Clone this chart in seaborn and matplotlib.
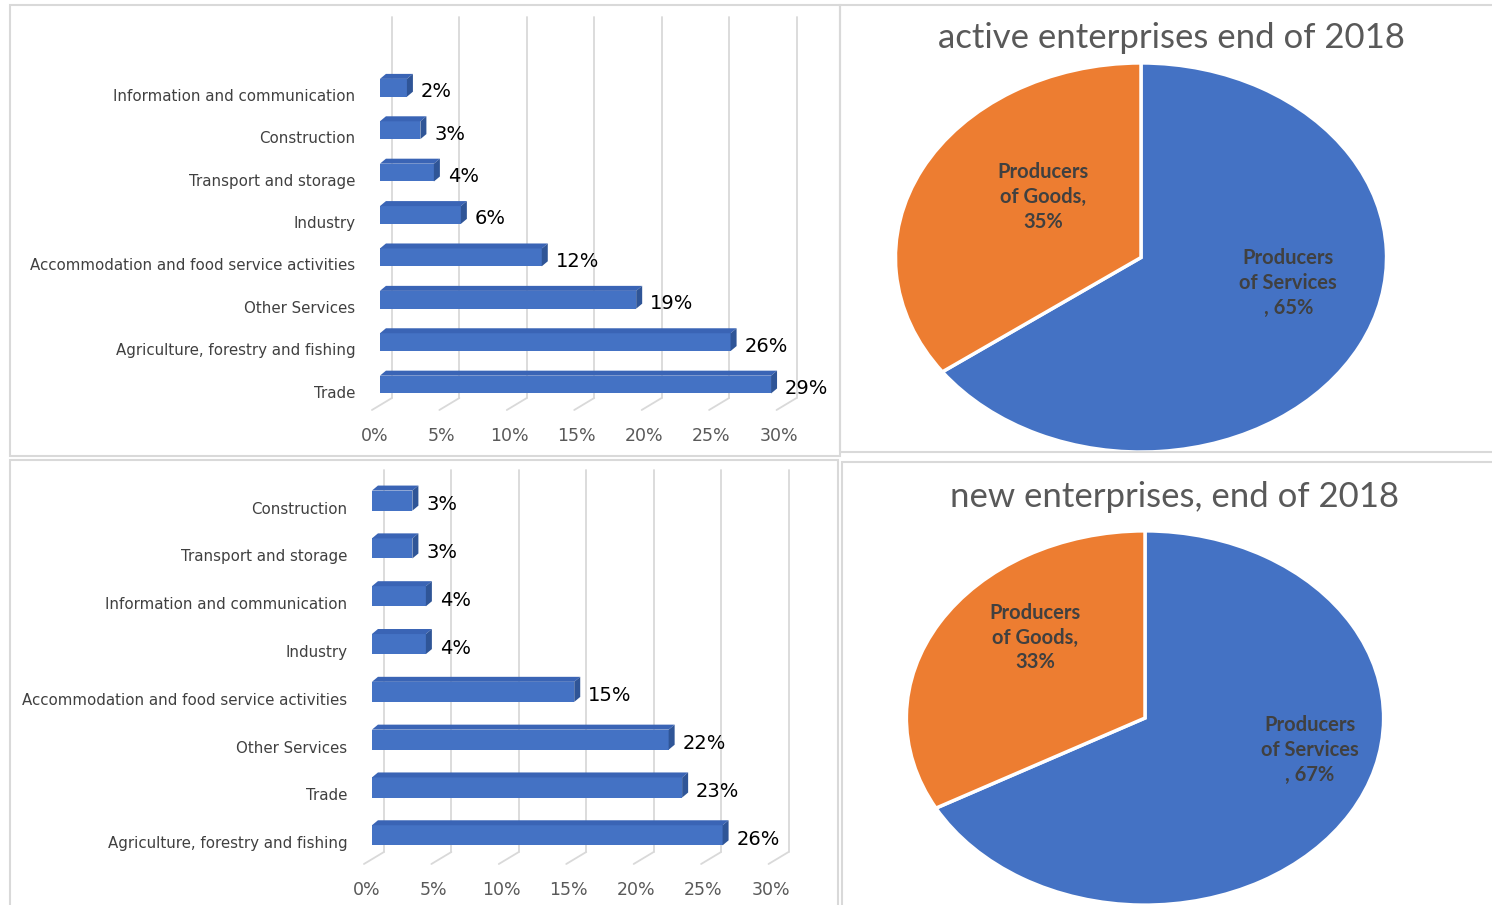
import matplotlib
matplotlib.use("Agg")
import matplotlib.pyplot as plt
import matplotlib.patches as mpatches
from matplotlib.transforms import ScaledTranslation
import pandas as pd
import seaborn as sns

# data
active_sectors = ["Information and communication", "Construction", "Transport and storage", "Industry",
                  "Accommodation and food service activities", "Other Services",
                  "Agriculture, forestry and fishing", "Trade"]
active_share = [2, 3, 4, 6, 12, 19, 26, 29]

new_sectors = ["Construction", "Transport and storage", "Information and communication", "Industry",
               "Accommodation and food service activities", "Other Services", "Trade",
               "Agriculture, forestry and fishing"]
new_share = [3, 3, 4, 4, 15, 22, 23, 26]

pie_groups = ["Producers of Services", "Producers of Goods"]
active_pie = [65, 35]
new_pie = [67, 33]
pie_titles = ["active enterprises end of 2018", "new enterprises, end of 2018"]

pct_ticks = [0, 5, 10, 15, 20, 25, 30]

BLUE = "#4472C4"
SIDE = "#2F5597"
TOP = "#3A64B5"
ORANGE = "#ED7D31"
GRID = "#D9D9D9"
GREY = "#595959"

sns.set_theme(style="white")
plt.rcParams["font.family"] = ["Lato", "DejaVu Sans"]

fig = plt.figure(figsize=(14.92, 9.05), dpi=100)
W, H = 1492, 905


def fig_box(x0, y0, x1, y1):
    # pixel box (top-left origin) -> figure fraction rect
    return [x0 / W, 1 - y1 / H, (x1 - x0) / W, (y1 - y0) / H]


# panel frames
for (x0, y0, x1, y1) in [(10, 5, 840, 456), (840, 5, 1495, 452), (10, 460, 838, 910), (842, 462, 1495, 910)]:
    r = fig_box(x0, y0, x1, y1)
    fig.add_artist(mpatches.Rectangle((r[0], r[1]), r[2], r[3], transform=fig.transFigure,
                                      fill=False, edgecolor=GRID, lw=1.5))


def shift(ax, x, y, dxp, dyp):
    p = ax.transData.transform((x, y))
    return ax.transData.inverted().transform((p[0] + dxp, p[1] + dyp))


def bar3d(ax, sectors, values, ytop):
    df = pd.DataFrame({"sector": sectors, "share": values})
    sns.barplot(data=df, x="share", y="sector", orient="h", color=BLUE, saturation=1,
                width=0.42, edgecolor="none", ax=ax, zorder=3)
    ax.set_xlim(-0.7, 32)
    ax.set_ylim(7.6, ytop)
    sns.despine(ax=ax, left=True, bottom=True)
    ax.set_xlabel("")
    ax.set_ylabel("")

    # back wall gridlines and floor diagonals
    for t in pct_ticks:
        front = shift(ax, t, 7.6, -8, 0)
        back = shift(ax, t, 7.6, 12, 12)
        ax.plot([front[0], back[0]], [front[1], back[1]], color=GRID, lw=1.3, zorder=1, clip_on=False)
        ax.plot([back[0], back[0]], [back[1], ytop], color=GRID, lw=1.3, zorder=1, clip_on=False)

    # 3d faces of bars
    for p, v in zip(ax.patches, values):
        x0, x1 = p.get_x(), p.get_x() + p.get_width()
        yt = p.get_y()            # visual top (inverted axis)
        yb = p.get_y() + p.get_height()
        top = [(x0, yt), (x1, yt), tuple(shift(ax, x1, yt, 6, 5)), tuple(shift(ax, x0, yt, 6, 5))]
        side = [(x1, yt), tuple(shift(ax, x1, yt, 6, 5)), tuple(shift(ax, x1, yb, 6, 5)), (x1, yb)]
        ax.add_patch(mpatches.Polygon(top, closed=True, facecolor=TOP, edgecolor="none", zorder=3))
        ax.add_patch(mpatches.Polygon(side, closed=True, facecolor=SIDE, edgecolor="none", zorder=3))
        ax.annotate(f"{v}%", (x1, p.get_y() + p.get_height() / 2), xytext=(14, -4),
                    textcoords="offset pixels", ha="left", va="center", fontsize=14,
                    family="DejaVu Sans", color="black", zorder=4)

    ax.set_xticks(pct_ticks)
    ax.set_xticklabels([f"{t}%" for t in pct_ticks])
    ax.tick_params(axis="x", length=0, pad=12, labelsize=12.5, labelcolor=GREY)
    ax.tick_params(axis="y", length=0, pad=11, labelsize=10.8, labelcolor="#404040")
    for lbl in ax.get_xticklabels():
        lbl.set_family("DejaVu Sans")
        lbl.set_transform(lbl.get_transform() + ScaledTranslation(-4 / 72, 0, fig.dpi_scale_trans))
    for lbl in ax.get_yticklabels():
        lbl.set_family("DejaVu Sans")
        lbl.set_transform(lbl.get_transform() + ScaledTranslation(0, -5 / 72, fig.dpi_scale_trans))
    ax.grid(False)
    ax.set_facecolor("none")


ax1 = fig.add_axes(fig_box(370.5, 17, 811.5, 410))
bar3d(ax1, active_sectors, active_share, -1.67)

ax2 = fig.add_axes(fig_box(362.5, 470, 803.5, 864))
bar3d(ax2, new_sectors, new_share, -0.64)


def pie(ax, vals, label_pos):
    ax.pie(vals, colors=[BLUE, ORANGE], startangle=90, counterclock=False,
           wedgeprops=dict(edgecolor="white", linewidth=2.5))
    ax.set_aspect("auto")
    ax.set_xlim(-1.01, 1.01)
    ax.set_ylim(-1.01, 1.01)
    ax.axis("off")
    texts = [f"Producers\nof Services\n, {vals[0]}%", f"Producers\nof Goods,\n{vals[1]}%"]
    for txt, (x, y) in zip(texts, label_pos):
        ax.text(x, y, txt, ha="center", va="center", fontsize=14.5, fontweight="bold",
                color="#404040", linespacing=1.3)


ax3 = fig.add_axes(fig_box(893, 61, 1389, 454))
pie(ax3, active_pie, [(0.6, -0.13), (-0.4, 0.31)])
fig.text(1171 / W, 1 - 38 / H, pie_titles[0], ha="center", va="center", fontsize=25, color=GREY)

ax4 = fig.add_axes(fig_box(904, 529, 1386, 907))
pie(ax4, new_pie, [(0.69, -0.17), (-0.46, 0.43)])
fig.text(1174 / W, 1 - 497 / H, pie_titles[1], ha="center", va="center", fontsize=25, color=GREY)

fig.savefig("out.png", dpi=100, facecolor="white")
